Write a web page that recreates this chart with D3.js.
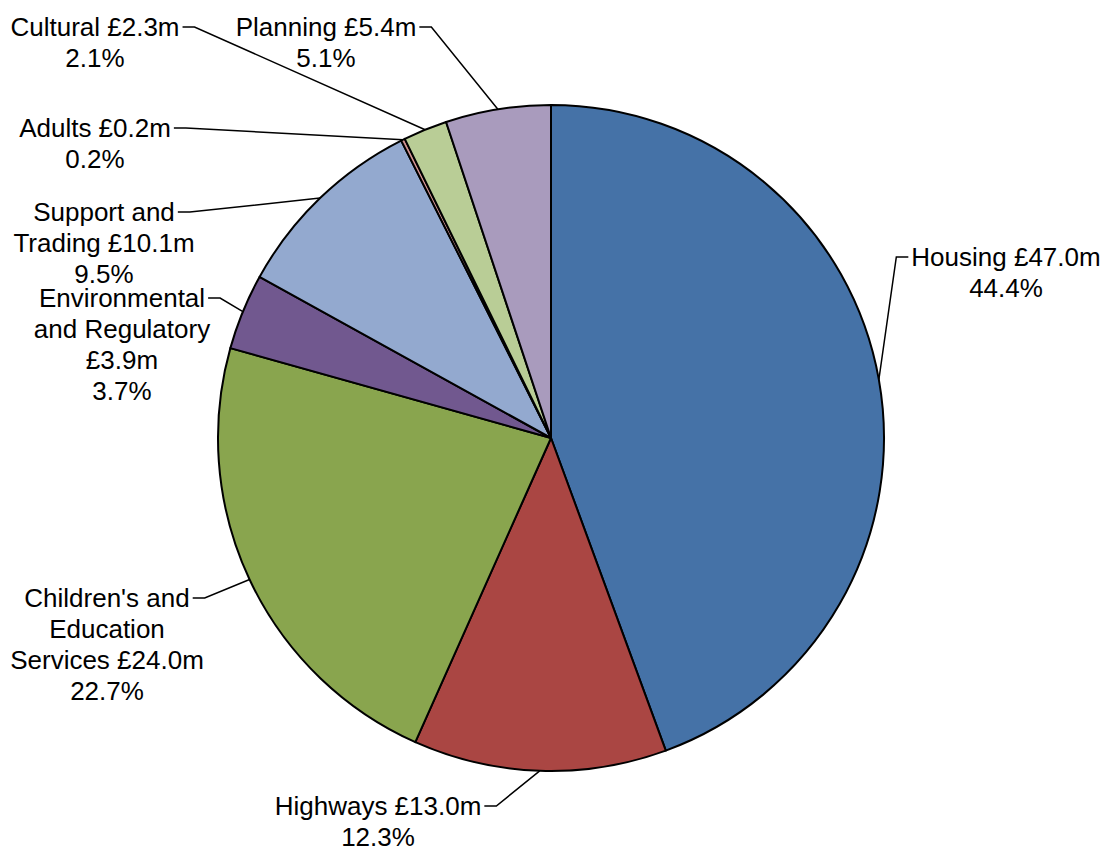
<!DOCTYPE html>
<html>
<head>
<meta charset="utf-8">
<script src="https://cdn.jsdelivr.net/npm/d3@7"></script>
<style>
  html, body { margin: 0; padding: 0; background: #fff; }
  svg { display: block; }
  text { font-family: "Liberation Sans", Arial, sans-serif; font-size: 26px; fill: #000; }
</style>
</head>
<body>
<svg id="chart" width="1105" height="846"></svg>
<script>
// ---- data ----
const categories = ["Housing", "Highways", "Children's and Education Services", "Environmental and Regulatory", "Support and Trading", "Adults", "Cultural", "Planning"];
const values = [47.0, 13.0, 24.0, 3.9, 10.1, 0.2, 2.26, 5.4];
const colors = ["#4572A7", "#AA4643", "#89A54E", "#71588F", "#93A9CF", "#D19392", "#B9CD96", "#A99BBD"];
// label line-wrapping as shown in the chart (name part of each line)
const labelLines = [
  ["Housing {v}", "{p}"],
  ["Highways {v}", "{p}"],
  ["Children's and", "Education", "Services {v}", "{p}"],
  ["Environmental", "and Regulatory", "{v}", "{p}"],
  ["Support and", "Trading {v}", "{p}"],
  ["Adults {v}", "{p}"],
  ["Cultural {v}", "{p}"],
  ["Planning {v}", "{p}"]
];

// ---- layout ----
const cx = 551, cy = 438, R = 333;
const lineH = 31;
// label block centre x, first-line baseline y, side the leader enters from
const labelLayout = [
  { x: 1006, y: 266, side: "left" },
  { x: 378,  y: 815, side: "right" },
  { x: 107,  y: 607, side: "right" },
  { x: 122,  y: 307, side: "right" },
  { x: 104,  y: 221, side: "right" },
  { x: 95,   y: 137, side: "right" },
  { x: 95,   y: 36,  side: "right" },
  { x: 326,  y: 36,  side: "right" }
];

const total = d3.sum(values);
const svg = d3.select("#chart");
const g = svg.append("g").attr("transform", `translate(${cx},${cy})`);

const pie = d3.pie().sort(null).value(d => d)(values);
const arc = d3.arc().innerRadius(0).outerRadius(R);

g.selectAll("path.slice")
  .data(pie)
  .join("path")
  .attr("class", "slice")
  .attr("d", arc)
  .attr("fill", (d, i) => colors[i])
  .attr("stroke", "#000")
  .attr("stroke-width", 2)
  .attr("stroke-linejoin", "round");

// labels
const labels = svg.append("g");
pie.forEach((d, i) => {
  const vText = "£" + values[i].toFixed(1) + "m";
  const pText = (values[i] / total * 100).toFixed(1) + "%";
  const lines = labelLines[i].map(s => s.replace("{v}", vText).replace("{p}", pText));
  const L = labelLayout[i];
  const t = labels.append("text").attr("text-anchor", "middle");
  lines.forEach((s, k) => {
    t.append("tspan").attr("x", L.x).attr("y", L.y + k * lineH).text(s);
  });
  // leader line
  const firstW = t.select("tspan").node().getComputedTextLength();
  const mid = (d.startAngle + d.endAngle) / 2;
  const ax = cx + R * Math.sin(mid), ay = cy - R * Math.cos(mid);
  const ly = L.y - 9;
  let ex, kx;
  if (L.side === "right") {
    ex = L.x + firstW / 2 + 3; kx = ex + 12;
  } else {
    ex = L.x - firstW / 2 - 3; kx = ex - 12;
  }
  labels.append("path")
    .attr("d", `M${ex},${ly}L${kx},${ly}L${ax},${ay}`)
    .attr("fill", "none")
    .attr("stroke", "#000")
    .attr("stroke-width", 1.5);
});
</script>
</body>
</html>
